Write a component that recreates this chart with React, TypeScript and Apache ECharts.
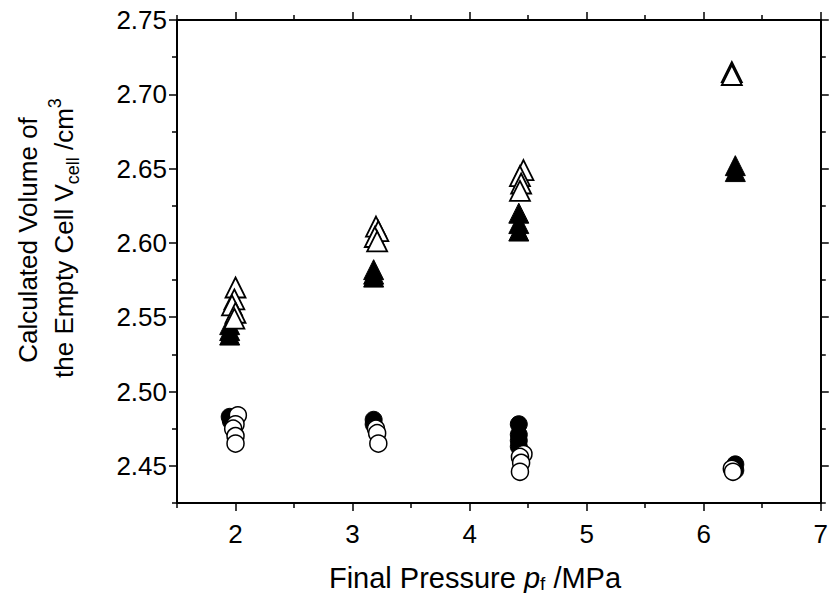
import React, { useEffect, useRef } from "react";
import * as echarts from "echarts";

// Data: [pressure (MPa), volume (cm3)]
const filledTriangles: [number, number][] = [
  [1.95, 2.545], [1.95, 2.541], [1.95, 2.538],
  [3.18, 2.582], [3.18, 2.579], [3.18, 2.577],
  [4.42, 2.62], [4.42, 2.613], [4.42, 2.608],
  [6.27, 2.652], [6.27, 2.648],
];
const openTriangles: [number, number][] = [
  [2.0, 2.57], [1.99, 2.562], [1.97, 2.558], [2.0, 2.553], [1.99, 2.549],
  [3.2, 2.611], [3.22, 2.608], [3.19, 2.604], [3.21, 2.601],
  [4.46, 2.649], [4.43, 2.645], [4.44, 2.64], [4.43, 2.635],
  [6.24, 2.715], [6.24, 2.713],
];
const filledCircles: [number, number][] = [
  [1.95, 2.483], [1.96, 2.48],
  [3.18, 2.481], [3.18, 2.478],
  [4.42, 2.478], [4.42, 2.471], [4.42, 2.467], [4.42, 2.463],
  [6.27, 2.451], [6.27, 2.447],
];
const openCircles: [number, number][] = [
  [2.02, 2.484], [2.0, 2.478], [1.98, 2.475], [2.0, 2.47], [2.0, 2.465],
  [3.2, 2.475], [3.21, 2.472], [3.22, 2.465],
  [4.46, 2.458], [4.43, 2.456], [4.44, 2.452], [4.43, 2.446],
  [6.24, 2.448], [6.25, 2.446],
];

const xMajor = [2, 3, 4, 5, 6, 7];
const xMinor = [1.5, 2.5, 3.5, 4.5, 5.5, 6.5];
const yMajor = [2.45, 2.5, 2.55, 2.6, 2.65, 2.7, 2.75];
const yMinor = [2.425, 2.475, 2.525, 2.575, 2.625, 2.675, 2.725];

const FONT = "'Liberation Sans', Arial, Helvetica, sans-serif";

export default function App() {
  const ref = useRef<HTMLDivElement>(null);
  useEffect(() => {
    if (!ref.current) return;
    const chart = echarts.init(ref.current, null, { renderer: "svg" });
    const lineStyle = { color: "#000", width: 2 };
    const xBase = (position: "bottom" | "top", ticks: number[], len: number, labels: boolean, showLine: boolean) => ({
      type: "value" as const,
      position,
      min: 1.5,
      max: 7,
      splitLine: { show: false },
      axisLine: { show: showLine, onZero: false, lineStyle },
      axisTick: { show: true, inside: false, length: len, customValues: ticks, lineStyle: { color: "#000", width: 1.5 } },
      axisLabel: labels
        ? { show: true, customValues: xMajor, margin: 18, fontSize: 26, color: "#000", fontFamily: FONT, formatter: (v: number) => String(Math.round(v)) }
        : { show: false },
    });
    const yBase = (position: "left" | "right", ticks: number[], len: number, labels: boolean, showLine: boolean) => ({
      type: "value" as const,
      position,
      min: 2.425,
      max: 2.75,
      splitLine: { show: false },
      axisLine: { show: showLine, onZero: false, lineStyle },
      axisTick: { show: true, inside: false, length: len, customValues: ticks, lineStyle: { color: "#000", width: 1.5 } },
      axisLabel: labels
        ? { show: true, customValues: yMajor, margin: 10, fontSize: 26, color: "#000", fontFamily: FONT, formatter: (v: number) => v.toFixed(2) }
        : { show: false },
    });
    const sym = 17;
    const triSize = 20;
    chart.setOption({
      animation: false,
      backgroundColor: "#fff",
      grid: { left: 177, right: 2, top: 20, bottom: 90, containLabel: false },
      xAxis: [
        xBase("bottom", xMajor, 8, true, true),
        xBase("bottom", xMinor, 5, false, false),
        xBase("top", xMajor, 8, false, true),
        xBase("top", xMinor, 5, false, false),
      ],
      yAxis: [
        yBase("left", yMajor, 8, true, true),
        yBase("left", yMinor, 5, false, false),
        yBase("right", yMajor, 8, false, true),
        yBase("right", yMinor, 5, false, false),
      ],
      series: [
        {
          type: "scatter", data: filledTriangles, symbol: "triangle", symbolSize: triSize,
          itemStyle: { color: "#000", borderColor: "#000", borderWidth: 1, opacity: 1 },
        },
        {
          type: "scatter", data: openTriangles, symbol: "triangle", symbolSize: triSize,
          itemStyle: { color: "#fff", borderColor: "#000", borderWidth: 1.8, opacity: 1 },
        },
        {
          type: "scatter", data: filledCircles, symbol: "circle", symbolSize: sym,
          itemStyle: { color: "#000", borderColor: "#000", borderWidth: 1, opacity: 1 },
        },
        {
          type: "scatter", data: openCircles, symbol: "circle", symbolSize: sym,
          itemStyle: { color: "#fff", borderColor: "#000", borderWidth: 1.5, opacity: 1 },
        },
      ],
      graphic: [
        {
          type: "text", x: 28, y: 240, rotation: Math.PI / 2,
          style: { text: "Calculated Volume of", fontSize: 26, fontFamily: FONT, fill: "#000", align: "center", verticalAlign: "middle" },
        },
        {
          type: "text", x: 64, y: 238, rotation: Math.PI / 2,
          style: {
            text: "{n|the Empty Cell V}{sub|cell}{n| /cm}{sup|3}",
            fontSize: 26, fontFamily: FONT, fill: "#000", align: "center", verticalAlign: "middle",
            rich: {
              n: { fontSize: 26, fontFamily: FONT, fill: "#000", lineHeight: 36 },
              sub: { fontSize: 18, fontFamily: FONT, fill: "#000", lineHeight: 19, verticalAlign: "bottom" },
              sup: { fontSize: 18, fontFamily: FONT, fill: "#000", lineHeight: 19, verticalAlign: "top" },
            },
          },
        },
        {
          type: "text", x: 475, y: 578,
          style: {
            text: "{n|Final Pressure }{i|p}{sub|f}{n| /MPa}",
            fontSize: 29, fontFamily: FONT, fill: "#000", align: "center", verticalAlign: "middle",
            rich: {
              n: { fontSize: 29, fontFamily: FONT, fill: "#000", lineHeight: 30 },
              i: { fontSize: 29, fontFamily: FONT, fontStyle: "italic", fill: "#000", lineHeight: 30 },
              sub: { fontSize: 19, fontFamily: FONT, fill: "#000", lineHeight: 16, verticalAlign: "bottom" },
            },
          },
        },
      ],
    });
    return () => chart.dispose();
  }, []);
  return <div ref={ref} style={{ position: "fixed", left: 0, top: 0, width: 831, height: 593 }} />;
}
